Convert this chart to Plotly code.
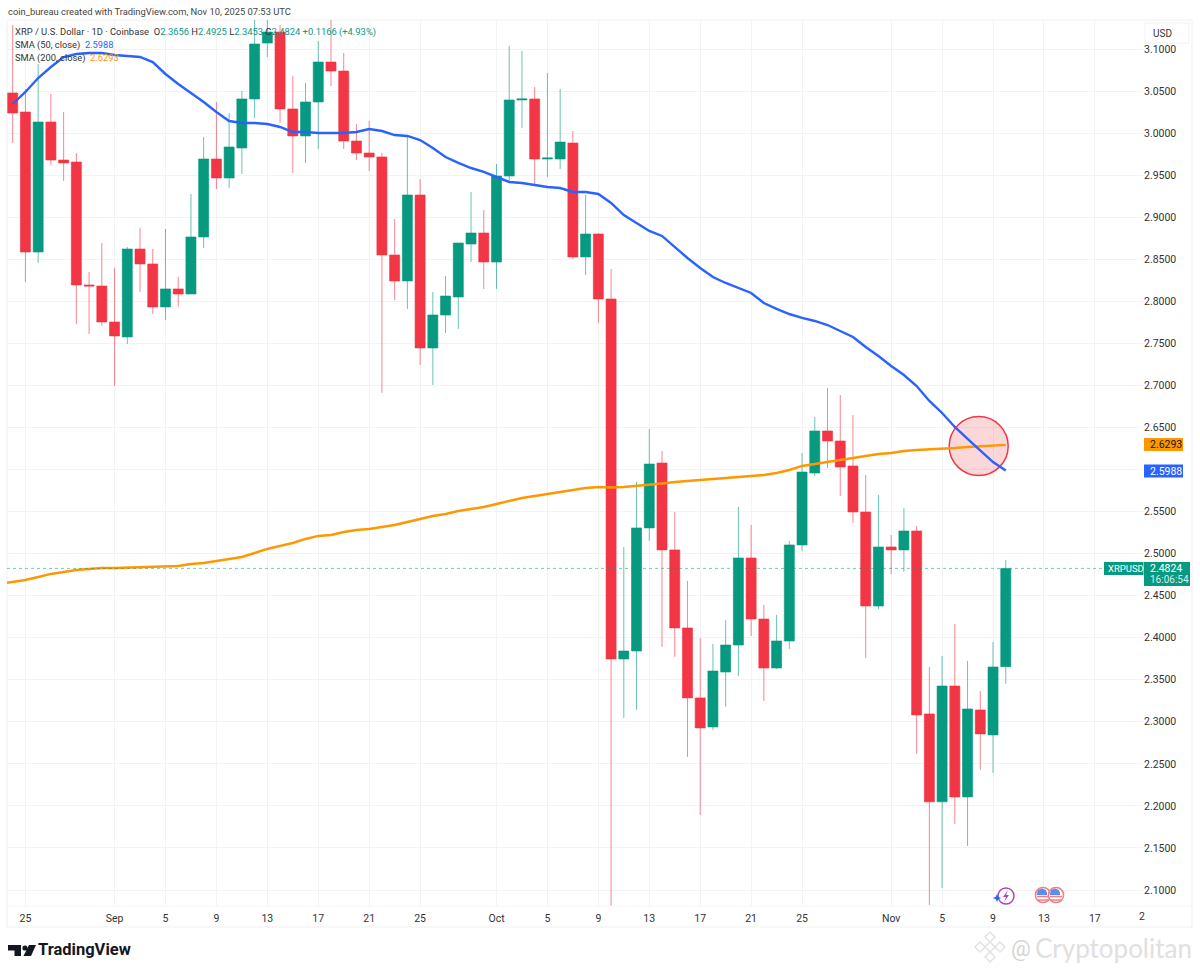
import pandas as pd
import plotly.graph_objects as go

dates = pd.date_range("2025-08-24", periods=79, freq="D")
opens = [3.0477,3.0251,2.8586,3.0132,2.9680,2.9656,2.8194,2.8182,2.7754,2.7576,2.8622,2.8444,2.7933,2.8147,2.8087,2.8765,2.9692,2.9466,2.9823,3.0406,
         3.1071,3.1202,3.0287,2.9966,3.0370,3.0845,3.0738,2.9906,2.9763,2.9716,2.8551,2.8242,2.9264,2.7445,2.7837,2.8051,2.8681,2.8812,2.8467,2.9490,
         3.0394,3.0406,2.9692,2.9692,2.9882,2.8527,2.8800,2.8028,2.3747,2.3842,2.5305,2.6077,2.5044,2.4116,2.3284,2.2939,2.3592,2.3913,2.4948,2.4222,
         2.3640,2.3961,2.5103,2.5958,2.6458,2.6339,2.6042,2.5495,2.4377,2.5079,2.5044,2.5269,2.3094,2.2048,2.3426,2.2107,2.3141,2.2844,2.3656]
highs = [3.1285,3.0524,3.0822,3.0465,3.0251,2.9763,2.8349,2.8693,2.8396,2.8646,2.8872,2.8622,2.8860,2.8289,2.9276,2.9954,3.0370,3.0239,3.0501,3.1600,
         3.1500,3.1285,3.0679,3.0596,3.1095,3.1500,3.0952,3.0108,3.0144,2.9763,2.8979,2.9966,2.9454,2.8111,2.8301,2.8693,2.9300,2.9086,2.9633,3.1036,
         3.0976,3.0548,3.0715,3.0524,3.0025,2.9264,2.8812,2.8384,2.5079,2.5852,2.6482,2.6220,2.5495,2.4674,2.3997,2.3925,2.4211,2.5554,2.5340,2.4389,
         2.4270,2.5150,2.6196,2.6624,2.6969,2.6886,2.6648,2.5935,2.5697,2.5222,2.5542,2.5329,2.3652,2.3783,2.4163,2.3723,2.3367,2.3949,2.4925]
lows = [2.9882,2.8230,2.8456,2.9621,2.9431,2.7730,2.7611,2.7706,2.6993,2.7492,2.8111,2.7849,2.7778,2.7933,2.8087,2.8634,2.9335,2.9347,2.9514,3.0180,
        3.0905,3.0120,2.9526,2.9645,2.9811,3.0560,2.9811,2.9680,2.9549,2.6910,2.8016,2.7909,2.7243,2.7005,2.7623,2.7671,2.8467,2.8147,2.8147,2.9419,
        3.0061,2.9395,2.9478,2.9573,2.8503,2.8313,2.7742,1.9000,2.3046,2.3141,2.5150,2.3890,2.3771,2.2582,2.1893,2.2903,2.3177,2.3545,2.4021,2.3248,
        2.3628,2.3866,2.5032,2.5923,2.6018,2.5685,2.5364,2.3759,2.4341,2.4757,2.4781,2.2618,2.0823,2.1025,2.1786,2.1524,2.2428,2.2392,2.3453]
closes = [3.0239,2.8586,3.0132,2.9680,2.9645,2.8194,2.8182,2.7754,2.7588,2.8622,2.8444,2.7933,2.8147,2.8087,2.8765,2.9692,2.9466,2.9835,3.0406,3.1059,
          3.1202,3.0287,2.9966,3.0370,3.0845,3.0738,2.9906,2.9763,2.9716,2.8551,2.8242,2.9264,2.7445,2.7837,2.8063,2.8693,2.8812,2.8467,2.9490,3.0394,
          3.0406,2.9692,2.9704,2.9894,2.8527,2.8800,2.8028,2.3747,2.3842,2.5305,2.6065,2.5044,2.4116,2.3284,2.2927,2.3604,2.3913,2.4948,2.4222,2.3640,
          2.3961,2.5103,2.5970,2.6458,2.6339,2.6030,2.5495,2.4377,2.5079,2.5044,2.5269,2.3082,2.2048,2.3426,2.2107,2.3153,2.2856,2.3652,2.4824]
sma50 = [3.0346,3.0489,3.0655,3.0786,3.0905,3.0941,3.0952,3.0952,3.0929,3.0917,3.0905,3.0845,3.0703,3.0584,3.0477,3.0370,3.0251,3.0144,3.0120,3.0120,
         3.0108,3.0073,3.0013,3.0013,3.0001,3.0001,3.0001,3.0013,3.0049,3.0025,2.9977,2.9966,2.9918,2.9823,2.9716,2.9645,2.9585,2.9538,2.9478,2.9419,
         2.9407,2.9383,2.9359,2.9347,2.9300,2.9300,2.9276,2.9169,2.9026,2.8931,2.8836,2.8777,2.8646,2.8515,2.8396,2.8289,2.8218,2.8158,2.8099,2.7980,
         2.7909,2.7849,2.7802,2.7766,2.7718,2.7647,2.7576,2.7457,2.7350,2.7231,2.7124,2.6993,2.6815,2.6672,2.6506,2.6363,2.6220,2.6089,2.5988]
sma200_dates = pd.date_range("2025-08-23", periods=80, freq="D")
sma200 = [2.4640,2.4663,2.4686,2.4722,2.4758,2.4782,2.4805,2.4817,2.4829,2.4829,2.4835,2.4841,2.4841,2.4853,2.4853,2.4877,2.4889,2.4912,2.4936,2.4960,2.5007,
          2.5055,2.5091,2.5126,2.5174,2.5210,2.5221,2.5257,2.5281,2.5293,2.5317,2.5340,2.5376,2.5412,2.5447,2.5471,2.5507,2.5531,2.5554,2.5590,2.5626,
          2.5661,2.5685,2.5709,2.5733,2.5756,2.5780,2.5792,2.5786,2.5792,2.5804,2.5816,2.5834,2.5852,2.5864,2.5875,2.5887,2.5899,2.5905,2.5917,2.5935,
          2.5958,2.5994,2.6042,2.6065,2.6089,2.6113,2.6137,2.6161,2.6185,2.6196,2.6220,2.6232,2.6238,2.6244,2.6256,2.6268,2.6274,2.6280,2.6293]

x_ticks = ["2025-08-25","2025-09-01","2025-09-05","2025-09-09","2025-09-13","2025-09-17","2025-09-21","2025-09-25",
           "2025-10-01","2025-10-05","2025-10-09","2025-10-13","2025-10-17","2025-10-21","2025-10-25",
           "2025-11-01","2025-11-05","2025-11-09","2025-11-13","2025-11-17"]
x_labels = ["25","Sep","5","9","13","17","21","25","Oct","5","9","13","17","21","25","Nov","5","9","13","17"]
y_ticks = [2.10,2.15,2.20,2.25,2.30,2.35,2.40,2.45,2.50,2.55,2.60,2.65,2.70,2.75,2.80,2.85,2.90,2.95,3.00,3.05,3.10]
y_labels = [f"{v:.4f}" if v != 2.60 else "" for v in y_ticks]

GREEN, RED, BLUE, ORANGE = "#089981", "#F23645", "#2962FF", "#FF9800"
FONT = "Roboto"
L, R, T, B = 7, 1143, 20, 906

def px(x): return (x - L) / (R - L)
def py(y): return (B - y) / (B - T)

def rect(x0, y0, x1, y1, fill, line=None, lw=0):
    return dict(type="rect", xref="paper", yref="paper", x0=px(x0), x1=px(x1), y0=py(y0), y1=py(y1),
                fillcolor=fill, line=dict(color=line or fill, width=lw), layer="above")

def circ(cx, cy, r, fill, line, lw=1.3):
    return dict(type="circle", xref="paper", yref="paper", x0=px(cx-r), x1=px(cx+r), y0=py(cy+r), y1=py(cy-r),
                fillcolor=fill, line=dict(color=line, width=lw), layer="above")

def poly(points, fill, line=None, lw=0):
    p = "M" + " L".join(f"{px(a):.5f},{py(b):.5f}" for a, b in points) + " Z"
    return dict(type="path", xref="paper", yref="paper", path=p, fillcolor=fill,
                line=dict(color=line or fill, width=lw), layer="above")

def text(x, y, s, size=10, color="#333", anchor="left", family=FONT):
    return dict(x=px(x), y=py(y), xref="paper", yref="paper", text=s, showarrow=False, xanchor=anchor,
                yanchor="middle", align="left", borderpad=0, font=dict(size=size, color=color, family=family))

fig = go.Figure()
fig.add_trace(go.Scatter(x=["2025-11-07 21:00"], y=[2.6279], mode="markers", showlegend=False, hoverinfo="skip",
                         marker=dict(size=59, color="rgba(242,54,69,0.2)", line=dict(color=RED, width=1.5))))
fig.add_trace(go.Scatter(x=sma200_dates, y=sma200, mode="lines", line=dict(color=ORANGE, width=2.4), showlegend=False))
fig.add_trace(go.Scatter(x=dates, y=sma50, mode="lines", line=dict(color=BLUE, width=2.4), showlegend=False))
fig.add_trace(go.Candlestick(x=dates, open=opens, high=highs, low=lows, close=closes, showlegend=False,
                             whiskerwidth=0,
                             increasing=dict(line=dict(color="rgba(8,153,129,0.6)", width=1), fillcolor=GREEN),
                             decreasing=dict(line=dict(color="rgba(242,54,69,0.6)", width=1), fillcolor=RED)))

shapes = [
    dict(type="rect", xref="paper", yref="paper", x0=px(7), x1=px(1192), y0=py(927), y1=py(20),
         line=dict(color="#f0f0f0", width=1), fillcolor="rgba(0,0,0,0)", layer="below"),
    dict(type="line", xref="paper", yref="paper", x0=px(7), x1=px(1192), y0=py(906), y1=py(906), line=dict(color="#f4f4f4", width=1)),
    dict(type="line", xref="paper", yref="y", x0=0, x1=1, y0=closes[-1], y1=closes[-1], line=dict(color="rgba(8,153,129,0.55)", width=1, dash="dot")),
    rect(1144, 438, 1183, 451, ORANGE),
    rect(1144, 464.5, 1183, 477.5, BLUE),
    rect(1104, 562, 1143.5, 575, GREEN),
    rect(1144, 562, 1190, 586, GREEN),
    rect(1145, 23, 1189, 43, "white", "#f2f2f2", 1),
    rect(1143, 909, 1150, 925, "white"),
    # event icons
    circ(1006, 896, 8, "white", "#AB47BC", 1.5),
    poly([(1008, 890), (1003, 897), (1006, 897), (1004, 902), (1009, 895), (1006, 895)], "#AB47BC"),
    poly([(997, 894), (998.2, 896.8), (1001, 898), (998.2, 899.2), (997, 902), (995.8, 899.2), (993, 898), (995.8, 896.8)], BLUE),
    circ(1043, 895, 7.6, "white", "#F77C80", 1.5),
    poly([(1036.5, 895), (1038, 890), (1042, 888.5), (1046, 890), (1047, 893), (1047, 895)], "#5B8DEF"),
    dict(type="line", xref="paper", yref="paper", x0=px(1037), x1=px(1049), y0=py(896.5), y1=py(896.5), line=dict(color="#F77C80", width=1.5)),
    dict(type="line", xref="paper", yref="paper", x0=px(1038), x1=px(1048), y0=py(900), y1=py(900), line=dict(color="#F77C80", width=1.5)),
    circ(1056, 895, 7.6, "white", "#F77C80", 1.5),
    poly([(1049.5, 895), (1051, 890), (1055, 888.5), (1059, 890), (1060, 893), (1060, 895)], "#5B8DEF"),
    dict(type="line", xref="paper", yref="paper", x0=px(1050), x1=px(1062), y0=py(896.5), y1=py(896.5), line=dict(color="#F77C80", width=1.5)),
    dict(type="line", xref="paper", yref="paper", x0=px(1051), x1=px(1061), y0=py(900), y1=py(900), line=dict(color="#F77C80", width=1.5)),
    # TradingView logo
    poly([(8, 945), (21, 945), (21, 956), (14.5, 956), (14.5, 950.5), (8, 950.5)], "#131722"),
    circ(25, 948, 2.6, "#131722", "#131722", 0),
    poly([(29, 945), (36, 945), (31, 956), (23.5, 956)], "#131722"),
    # watermark diamonds
    poly([(990, 932), (995, 937), (990, 942), (985, 937)], "rgba(0,0,0,0)", "#e2e2e2", 1.5),
    poly([(980, 942), (985, 947), (980, 952), (975, 947)], "rgba(0,0,0,0)", "#e2e2e2", 1.5),
    poly([(1000, 942), (1005, 947), (1000, 952), (995, 947)], "rgba(0,0,0,0)", "#e2e2e2", 1.5),
    poly([(990, 942), (995, 947), (990, 952), (985, 947)], "rgba(0,0,0,0)", "#e2e2e2", 1.5),
    poly([(990, 952), (995, 957), (990, 962), (985, 957)], "rgba(0,0,0,0)", "#e2e2e2", 1.5),
]

g = f'<span style="color:{GREEN}">'
annotations = [
    text(7, 11, "coin_bureau created with TradingView.com, Nov 10, 2025 07:53 UTC", 9.4, "#444"),
    text(14, 32, f"XRP / U.S. Dollar · 1D · Coinbase  O{g}2.3656</span> H{g}2.4925</span> L{g}2.3453</span> C{g}2.4824</span> {g}+0.1166 (+4.93%)</span>", 9.4, "#333"),
    text(14, 45, f'SMA (50, close)  <span style="color:{BLUE}">2.5988</span>', 9.3, "#333"),
    text(14, 58, f'SMA (200, close)  <span style="color:{ORANGE}">2.6293</span>', 9.3, "#333"),
    text(1152, 34, "USD", 10, "#333"),
    text(1149, 444.5, "2.6293", 10.5, "#131722"),
    text(1149, 471, "2.5988", 10.5, "#ffffff"),
    text(1107, 568.5, "XRPUSD", 9.5, "#ffffff"),
    text(1149, 568.5, "2.4824", 10.5, "#ffffff"),
    text(1149, 579.5, "16:06:54", 10, "#d6f0ea"),
    text(1146, 916, "2", 10.5, "#333", "right"),
    text(37, 950, "<b>TradingView</b>", 16.5, "#131722"),
    text(1010, 948, "@", 22, "#d5d5d5"),
    text(1034, 948, "Cryptopolitan", 26, "#e0e0e0", family="Lato"),
]

fig.update_layout(
    width=1200, height=973, margin=dict(l=L, r=1200 - R, t=T, b=973 - B),
    paper_bgcolor="white", plot_bgcolor="white", showlegend=False, hovermode=False,
    font=dict(family=FONT, size=10, color="#333"), boxgap=0.21, boxgroupgap=0,
    shapes=shapes, annotations=annotations,
    xaxis=dict(type="date", range=["2025-08-23 13:15", "2025-11-20 18:43"], rangeslider=dict(visible=False),
               tickmode="array", tickvals=x_ticks, ticktext=x_labels, tickangle=0,
               showgrid=True, gridcolor="#f3f3f3", gridwidth=1, zeroline=False, showline=False,
               ticks="outside", ticklen=2, tickcolor="rgba(0,0,0,0)",
               tickfont=dict(size=10.5, color="#333", family=FONT)),
    yaxis=dict(side="right", range=[2.08098, 3.13448], tickmode="array", tickvals=y_ticks, ticktext=y_labels,
               showgrid=True, gridcolor="#f3f3f3", gridwidth=1, zeroline=False, showline=False, ticks="",
               tickfont=dict(size=10.5, color="#333", family=FONT)),
)

fig.write_html("out.html", config={"displayModeBar": False}, post_script="document.body.style.margin='0';")
